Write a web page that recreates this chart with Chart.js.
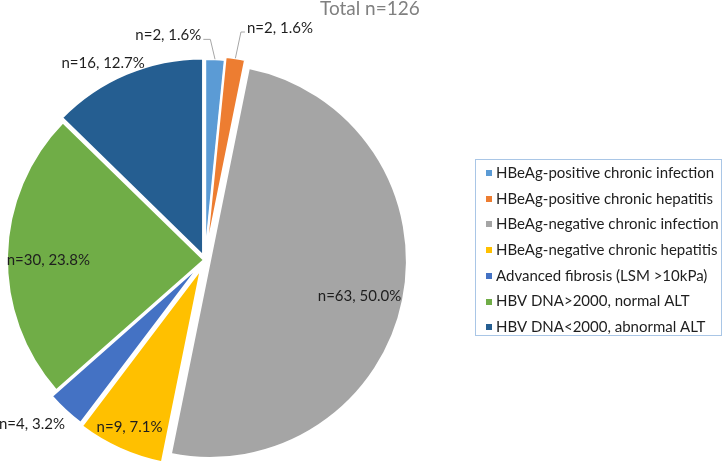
<!DOCTYPE html>
<html>
<head>
<meta charset="utf-8">
<script src="https://cdn.jsdelivr.net/npm/chart.js@4"></script>
<style>
html,body{margin:0;padding:0;background:#ffffff;overflow:hidden}
canvas{display:block}
</style>
</head>
<body>
<canvas id="c" width="724" height="466"></canvas>
<script>
// ---- data ----
const categories = [
  'HBeAg-positive chronic infection',
  'HBeAg-positive chronic hepatitis',
  'HBeAg-negative chronic infection',
  'HBeAg-negative chronic hepatitis',
  'Advanced fibrosis (LSM >10kPa)',
  'HBV DNA>2000, normal ALT',
  'HBV DNA<2000, abnormal ALT'
];
const counts = [2, 2, 63, 9, 4, 30, 16];
const titleText = 'Total n=126';

// ---- styles ----
const sliceColors = ['#5B9BD5', '#ED7D31', '#A5A5A5', '#FFC000', '#4472C4', '#70AD47', '#255E91'];
const explode = [4, 7, 5, 10, 8, 1, 5];
const labelPlacement = [
  {mode: 'leader', dir: -1, factor: 1.10, shift: -1.5, arm: 7},
  {mode: 'leader', dir: 1, factor: 1.136, shift: 0.4, arm: 4},
  {mode: 'plain', factor: 0.78, shift: 1.8},
  {mode: 'plain', factor: 0.88, shift: 0},
  {mode: 'plain', factor: 1.17, shift: 3.8},
  {mode: 'plain', factor: 0.79, shift: -1.4},
  {mode: 'plain', factor: 1.10, shift: -4.6}
];
const FONT = 'Lato, "Open Sans", sans-serif';
const LABEL_SIZE = 15;
const TEXT_COLOR = '#1e1e1e';
const deg = Math.PI / 180;

const piePlugin = {
  id: 'explodedPie',
  beforeDatasetsDraw(chart) {
    const ctx = chart.ctx;
    const meta = chart.getDatasetMeta(0);
    meta.data.forEach((arc, i) => {
      const mid = (arc.startAngle + arc.endAngle) / 2;
      ctx.save();
      ctx.translate(Math.cos(mid) * explode[i], Math.sin(mid) * explode[i]);
      arc.draw(ctx, chart.chartArea);
      ctx.restore();
    });
    return false;
  },
  afterDraw(chart) {
    const ctx = chart.ctx;
    const meta = chart.getDatasetMeta(0);
    const total = counts.reduce((a, b) => a + b, 0);
    ctx.save();
    // data labels
    ctx.font = LABEL_SIZE + 'px ' + FONT;
    ctx.textBaseline = 'middle';
    meta.data.forEach((arc, i) => {
      const mid = (arc.startAngle + arc.endAngle) / 2;
      const cx = arc.x + Math.cos(mid) * explode[i];
      const cy = arc.y + Math.sin(mid) * explode[i];
      const R = arc.outerRadius;
      const p = labelPlacement[i];
      const a = mid + p.shift * deg;
      const text = 'n=' + counts[i] + ', ' + (counts[i] / total * 100).toFixed(1) + '%';
      const lx = cx + Math.cos(a) * R * p.factor;
      const ly = cy + Math.sin(a) * R * p.factor;
      ctx.fillStyle = TEXT_COLOR;
      if (p.mode === 'plain') {
        ctx.textAlign = 'center';
        ctx.fillText(text, lx, ly);
      } else {
        const ox = cx + Math.cos(mid) * R;
        const oy = cy + Math.sin(mid) * R;
        ctx.strokeStyle = '#A6A6A6';
        ctx.lineWidth = 1;
        ctx.beginPath();
        ctx.moveTo(ox, oy);
        ctx.lineTo(lx, ly);
        ctx.lineTo(lx + p.dir * p.arm, ly);
        ctx.stroke();
        ctx.textAlign = p.dir < 0 ? 'right' : 'left';
        ctx.fillText(text, lx + p.dir * (p.arm + 2), ly - 4);
      }
    });
    // title
    ctx.font = '19px ' + FONT;
    ctx.fillStyle = '#808080';
    ctx.textAlign = 'left';
    ctx.textBaseline = 'alphabetic';
    ctx.fillText(titleText, 320, 15);
    // legend
    const lg = {x: 475.5, y: 159.5, w: 246, h: 176, rowStart: 173, rowGap: 25.7, markerX: 486, marker: 6, textX: 496};
    ctx.strokeStyle = '#A9C6E6';
    ctx.lineWidth = 1;
    ctx.strokeRect(lg.x, lg.y, lg.w, lg.h);
    ctx.font = LABEL_SIZE + 'px ' + FONT;
    ctx.textBaseline = 'middle';
    categories.forEach((c, i) => {
      const y = lg.rowStart + i * lg.rowGap;
      ctx.fillStyle = sliceColors[i];
      ctx.fillRect(lg.markerX, Math.round(y - lg.marker / 2), lg.marker, lg.marker);
      ctx.fillStyle = TEXT_COLOR;
      ctx.fillText(c, lg.textX, y);
    });
    ctx.restore();
  }
};

new Chart(document.getElementById('c'), {
  type: 'pie',
  data: {
    labels: categories,
    datasets: [{
      data: counts,
      backgroundColor: sliceColors,
      borderColor: '#ffffff',
      borderWidth: 2,
      hoverOffset: 0
    }]
  },
  options: {
    responsive: false,
    devicePixelRatio: 1,
    animation: false,
    events: [],
    layout: {padding: {left: 7, right: 321, top: 62, bottom: 8}},
    plugins: {
      legend: {display: false},
      tooltip: {enabled: false},
      title: {display: false}
    }
  },
  plugins: [piePlugin]
});
</script>
</body>
</html>
